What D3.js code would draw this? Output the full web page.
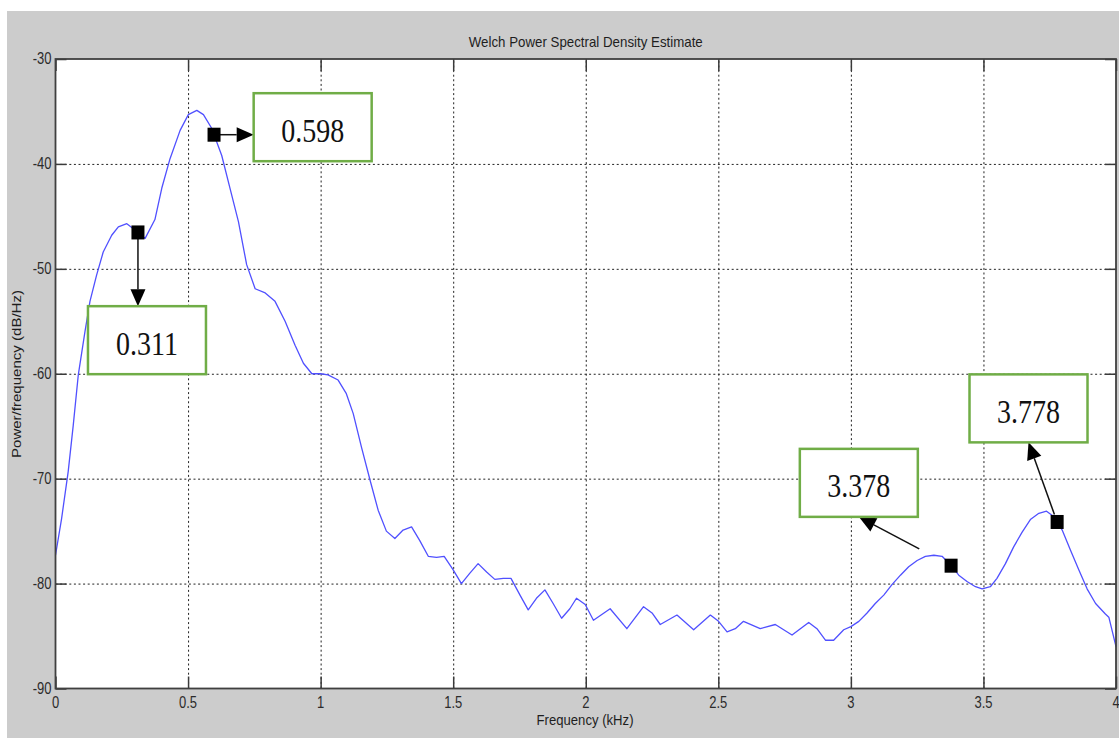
<!DOCTYPE html>
<html>
<head>
<meta charset="utf-8">
<title>Welch Power Spectral Density Estimate</title>
<script src="https://cdn.jsdelivr.net/npm/d3@7/dist/d3.min.js"></script>
<style>
  html, body { margin: 0; padding: 0; background: #ffffff; }
  svg { display: block; }
  .axis path.domain { display: none; }
  .ticks line { stroke: #3a3a3a; stroke-width: 1.5; }
  .grid line { stroke: #222; stroke-width: 1; stroke-dasharray: 2 2.6; }
  .tick-label { font-family: "Liberation Sans", Arial, sans-serif; font-size: 13px; fill: #2b2b2b; }
  .axis-title { font-family: "Liberation Sans", Arial, sans-serif; font-size: 12px; fill: #1e1e1e; }
  .box-label { font-family: "Liberation Serif", "Times New Roman", serif; font-size: 28px; fill: #111; }
</style>
</head>
<body>
<svg id="chart" width="1119" height="738"></svg>
<script>
// PSD curve (kHz, dB/Hz)
const freqKHz = [
  0.000, 0.023, 0.048, 0.067, 0.086, 0.111, 0.130, 0.155, 0.180, 0.212,
  0.237, 0.269, 0.300, 0.338, 0.375, 0.401, 0.432, 0.470, 0.501, 0.533,
  0.558, 0.589, 0.627, 0.658, 0.690, 0.721, 0.753, 0.791, 0.828, 0.866,
  0.904, 0.935, 0.967, 1.000, 1.028, 1.066, 1.097, 1.123, 1.154, 1.186,
  1.217, 1.248, 1.280, 1.311, 1.343, 1.374, 1.406, 1.437, 1.466, 1.500,
  1.531, 1.563, 1.594, 1.626, 1.657, 1.689, 1.718, 1.752, 1.783, 1.814,
  1.846, 1.877, 1.909, 1.940, 1.965, 1.998, 2.029, 2.092, 2.155, 2.218,
  2.250, 2.281, 2.344, 2.407, 2.470, 2.501, 2.533, 2.564, 2.595, 2.658,
  2.715, 2.778, 2.841, 2.872, 2.904, 2.935, 2.973, 3.000, 3.030, 3.061,
  3.092, 3.124, 3.155, 3.187, 3.218, 3.250, 3.281, 3.313, 3.344, 3.375,
  3.407, 3.438, 3.470, 3.495, 3.526, 3.551, 3.583, 3.614, 3.646, 3.677,
  3.709, 3.738, 3.765, 3.797, 3.828, 3.860, 3.891, 3.923, 3.960, 3.973,
  4.000
];
const psdDb = [
  -77.3, -73.8, -69.3, -64.9, -60.1, -56.0, -53.1, -50.6, -48.4, -46.8,
  -46.0, -45.7, -46.3, -47.1, -45.3, -42.3, -39.5, -36.8, -35.3, -34.9,
  -35.3, -36.6, -39.2, -42.3, -45.5, -49.6, -51.9, -52.3, -53.1, -55.0,
  -57.3, -59.0, -60.0, -60.0, -60.1, -60.6, -61.9, -63.8, -67.0, -70.1,
  -73.0, -75.0, -75.7, -74.9, -74.6, -75.9, -77.4, -77.5, -77.4, -78.7,
  -80.0, -79.0, -78.1, -78.9, -79.6, -79.5, -79.5, -81.1, -82.5, -81.4,
  -80.6, -81.9, -83.3, -82.4, -81.4, -82.0, -83.5, -82.4, -84.3, -82.2,
  -82.8, -83.9, -83.0, -84.4, -83.0, -83.6, -84.6, -84.3, -83.6, -84.3,
  -83.9, -84.9, -83.7, -84.3, -85.4, -85.4, -84.4, -84.1, -83.6, -82.8,
  -81.9, -81.1, -80.1, -79.2, -78.4, -77.8, -77.4, -77.3, -77.4, -78.2,
  -79.2, -79.8, -80.3, -80.5, -80.3, -79.5, -78.1, -76.5, -75.1, -73.9,
  -73.3, -73.1, -73.6, -74.9, -76.8, -78.7, -80.5, -81.9, -82.9, -83.2,
  -86.0
];

// Annotated peak frequencies (kHz) and their box texts
const peakFreqs = [0.311, 0.598, 3.378, 3.778];
const peakLabels = ["0.311", "0.598", "3.378", "3.778"];

const xTicks = [0, 0.5, 1, 1.5, 2, 2.5, 3, 3.5, 4];
const yTicks = [-90, -80, -70, -60, -50, -40, -30];

const titleText = "Welch Power Spectral Density Estimate";
const xTitle = "Frequency (kHz)";
const yTitle = "Power/frequency (dB/Hz)";

// Box placement for each annotation: centre in data units, arrow attachment edge
const annotationLayout = [
  { cx: 0.345, cy: -56.8, edge: "top",    gap: 0 },
  { cx: 0.970, cy: -36.5, edge: "left",   gap: 0 },
  { cx: 3.030, cy: -70.4, edge: "bottom", gap: 36 },
  { cx: 3.670, cy: -63.3, edge: "bottom", gap: 8 }
];

const W = 1119, H = 738;
const plot = { left: 55.5, right: 1116, top: 59, bottom: 688.5 };
const stretchY = 1.2;

const svg = d3.select("#chart");

// figure background
svg.append("rect").attr("x", 0).attr("y", 0).attr("width", W).attr("height", H).attr("fill", "#ffffff");
svg.append("rect").attr("x", 7).attr("y", 11).attr("width", W - 7).attr("height", H - 11).attr("fill", "#cccccc");

const x = d3.scaleLinear().domain([0, 4]).range([plot.left, plot.right]);
const y = d3.scaleLinear().domain([-90, -30]).range([plot.bottom, plot.top]);

// axes area
svg.append("rect")
  .attr("x", plot.left).attr("y", plot.top)
  .attr("width", plot.right - plot.left).attr("height", plot.bottom - plot.top)
  .attr("fill", "#ffffff");

// dotted grid
svg.append("g").attr("class", "grid")
  .attr("transform", `translate(0,${plot.bottom})`)
  .call(d3.axisBottom(x).tickValues(xTicks.slice(1, -1)).tickSize(-(plot.bottom - plot.top)).tickFormat(""));
svg.append("g").attr("class", "grid")
  .attr("transform", `translate(${plot.left},0)`)
  .call(d3.axisLeft(y).tickValues(yTicks.slice(1, -1)).tickSize(-(plot.right - plot.left)).tickFormat(""));
svg.selectAll(".grid path.domain").remove();

// inward tick marks on all four sides
const tickLenX = 12, tickLenY = 11;
svg.append("g").attr("class", "axis ticks")
  .attr("transform", `translate(0,${plot.bottom})`)
  .call(d3.axisBottom(x).tickValues(xTicks).tickSizeInner(-tickLenX).tickSizeOuter(0).tickFormat(""));
svg.append("g").attr("class", "axis ticks")
  .attr("transform", `translate(0,${plot.top})`)
  .call(d3.axisTop(x).tickValues(xTicks).tickSizeInner(-tickLenX).tickSizeOuter(0).tickFormat(""));
svg.append("g").attr("class", "axis ticks")
  .attr("transform", `translate(${plot.left},0)`)
  .call(d3.axisLeft(y).tickValues(yTicks).tickSizeInner(-tickLenY).tickSizeOuter(0).tickFormat(""));
svg.append("g").attr("class", "axis ticks")
  .attr("transform", `translate(${plot.right},0)`)
  .call(d3.axisRight(y).tickValues(yTicks).tickSizeInner(-tickLenY).tickSizeOuter(0).tickFormat(""));

// tick labels
svg.append("g").selectAll("text").data(xTicks).join("text")
  .attr("class", "tick-label")
  .attr("text-anchor", "middle")
  .attr("dominant-baseline", "central")
  .attr("transform", d => `translate(${x(d)},${plot.bottom + 14}) scale(1,${stretchY})`)
  .text(d => String(d));
svg.append("g").selectAll("text").data(yTicks).join("text")
  .attr("class", "tick-label")
  .attr("text-anchor", "end")
  .attr("dominant-baseline", "central")
  .attr("transform", d => `translate(${plot.left - 4},${y(d)}) scale(1,${stretchY})`)
  .text(d => String(d));

// PSD curve
const points = freqKHz.map((f, i) => [f, psdDb[i]]);
svg.append("path")
  .datum(points)
  .attr("fill", "none")
  .attr("stroke", "#5050ff")
  .attr("stroke-width", 1.3)
  .attr("stroke-linejoin", "round")
  .attr("d", d3.line().x(d => x(d[0])).y(d => y(d[1])));

// axes frame
svg.append("rect")
  .attr("x", plot.left).attr("y", plot.top)
  .attr("width", plot.right - plot.left).attr("height", plot.bottom - plot.top)
  .attr("fill", "none").attr("stroke", "#404040").attr("stroke-width", 1.8);

// titles
svg.append("text").attr("class", "axis-title")
  .attr("text-anchor", "middle").attr("dominant-baseline", "central")
  .attr("textLength", 234).attr("lengthAdjust", "spacingAndGlyphs")
  .attr("transform", `translate(${(plot.left + plot.right) / 2},42) scale(1,${stretchY})`)
  .text(titleText);
svg.append("text").attr("class", "axis-title")
  .attr("text-anchor", "middle").attr("dominant-baseline", "central")
  .attr("textLength", 97).attr("lengthAdjust", "spacingAndGlyphs")
  .attr("transform", `translate(585,720) scale(1,${stretchY})`)
  .text(xTitle);
svg.append("text").attr("class", "axis-title")
  .attr("text-anchor", "middle").attr("dominant-baseline", "central")
  .attr("textLength", 168).attr("lengthAdjust", "spacingAndGlyphs")
  .attr("transform", `translate(17,374) rotate(-90)`)
  .text(yTitle);

// value on the curve at a given frequency (linear between samples)
const bisect = d3.bisector(d => d).right;
function curveAt(f) {
  const i = Math.min(Math.max(bisect(freqKHz, f) - 1, 0), freqKHz.length - 2);
  const t = (f - freqKHz[i]) / (freqKHz[i + 1] - freqKHz[i]);
  return psdDb[i] + t * (psdDb[i + 1] - psdDb[i]);
}

// peak annotations: marker, arrow and labelled box
const boxW = 118, boxH = 68, headLen = 17, headHalf = 7.5;
const annG = svg.append("g");
peakFreqs.forEach((f, i) => {
  const lay = annotationLayout[i];
  const mx = x(f), my = y(curveAt(f));
  const bx = x(lay.cx) - boxW / 2, by = y(lay.cy) - boxH / 2;

  // arrow tip on the box edge
  let tx, ty;
  if (lay.edge === "top")    { tx = mx; ty = by; }
  if (lay.edge === "left")   { tx = bx; ty = my; }
  if (lay.edge === "bottom") { tx = bx + boxW / 2; ty = by + boxH; }

  const dx = tx - mx, dy = ty - my, len = Math.hypot(dx, dy);
  const ux = dx / len, uy = dy / len;
  const sx = mx + ux * lay.gap, sy = my + uy * lay.gap;
  const hx = tx - ux * headLen, hy = ty - uy * headLen;

  annG.append("line")
    .attr("x1", sx).attr("y1", sy).attr("x2", hx).attr("y2", hy)
    .attr("stroke", "#111").attr("stroke-width", 1.5);
  annG.append("path")
    .attr("d", `M${tx},${ty}L${hx - uy * headHalf},${hy + ux * headHalf}L${hx + uy * headHalf},${hy - ux * headHalf}Z`)
    .attr("fill", "#000");

  annG.append("rect")
    .attr("x", mx - 6.5).attr("y", my - 7)
    .attr("width", 13).attr("height", 14)
    .attr("fill", "#000");

  annG.append("rect")
    .attr("x", bx).attr("y", by).attr("width", boxW).attr("height", boxH)
    .attr("fill", "#ffffff").attr("stroke", "#70ad47").attr("stroke-width", 2.5);
  annG.append("text").attr("class", "box-label")
    .attr("text-anchor", "middle").attr("dominant-baseline", "central")
    .attr("transform", `translate(${bx + boxW / 2},${by + boxH / 2 + 3}) scale(1,${stretchY})`)
    .text(peakLabels[i]);
});
</script>
</body>
</html>
